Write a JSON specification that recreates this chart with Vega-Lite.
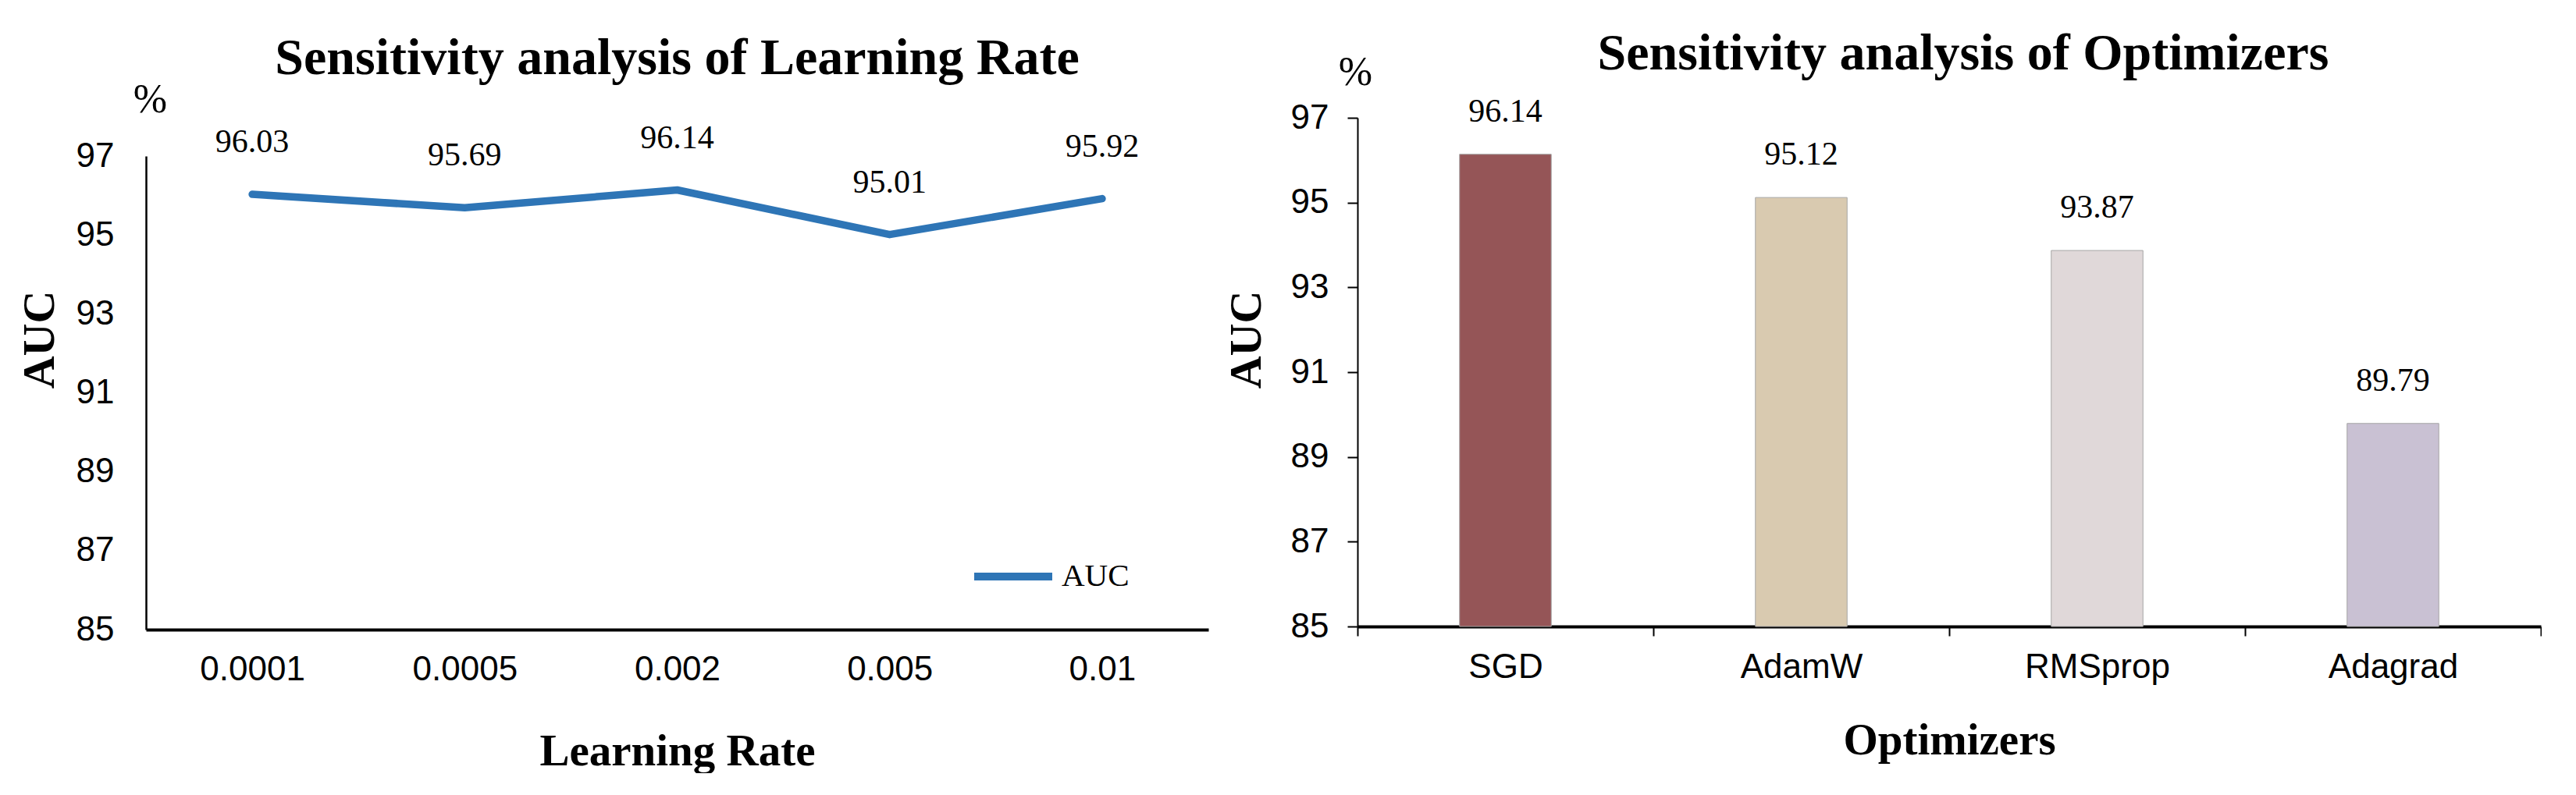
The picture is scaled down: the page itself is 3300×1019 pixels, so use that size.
{
  "$schema": "https://vega.github.io/schema/vega-lite/v6.json",
  "background": "white",
  "padding": {"left": 22, "top": 36, "right": 0, "bottom": 0},
  "spacing": 20,
  "config": {
    "view": {"stroke": null},
    "font": "Liberation Serif",
    "axis": {
      "labelFont": "Liberation Sans",
      "labelFontSize": 44,
      "labelColor": "#000000",
      "labelLimit": 0,
      "titleFont": "Liberation Serif",
      "titleFontWeight": "bold",
      "titleColor": "#000000",
      "domainColor": "#000000",
      "tickColor": "#000000",
      "grid": false
    },
    "title": {"font": "Liberation Serif", "fontSize": 66, "fontWeight": "bold", "color": "#000000"}
  },
  "datasets": {
    "lr": [
      {"lr": "0.0001", "auc": 96.03, "series": "AUC"},
      {"lr": "0.0005", "auc": 95.69, "series": "AUC"},
      {"lr": "0.002", "auc": 96.14, "series": "AUC"},
      {"lr": "0.005", "auc": 95.01, "series": "AUC"},
      {"lr": "0.01", "auc": 95.92, "series": "AUC"}
    ],
    "opt": [
      {"opt": "SGD", "auc": 96.14},
      {"opt": "AdamW", "auc": 95.12},
      {"opt": "RMSprop", "auc": 93.87},
      {"opt": "Adagrad", "auc": 89.79}
    ]
  },
  "resolve": {"scale": {"color": "independent"}, "legend": {"color": "independent"}},
  "hconcat": [
    {
      "width": 1361,
      "height": 656,
      "data": {"name": "lr"},
      "title": {"text": "Sensitivity analysis of Learning Rate", "anchor": "middle", "frame": "group", "baseline": "alphabetic", "offset": -60},
      "encoding": {
        "x": {
          "field": "lr", "type": "nominal", "sort": null,
          "scale": {"type": "point", "padding": 0.5},
          "axis": {"title": "Learning Rate", "titleFontSize": 57, "titleY": 173, "titleBaseline": "alphabetic", "labelAngle": 0, "labelPadding": 29, "ticks": false, "tickSize": 0, "domainWidth": 4}
        }
      },
      "layer": [
        {
          "mark": {"type": "line", "strokeWidth": 9.5, "strokeCap": "round", "strokeJoin": "round"},
          "encoding": {
            "y": {
              "field": "auc", "type": "quantitative",
              "scale": {"domain": [85, 97], "range": [656, 49], "nice": false, "zero": false},
              "axis": {"orient": "left", "title": "AUC", "titleFontSize": 58, "titleX": -136, "titleY": 284, "titleBaseline": "middle", "titleAlign": "center", "values": [85, 87, 89, 91, 93, 95, 97], "ticks": false, "tickSize": 0, "labelPadding": 41, "domainWidth": 2.5}
            },
            "color": {
              "field": "series", "type": "nominal",
              "scale": {"domain": ["AUC"], "range": ["#2E75B6"]},
              "legend": {"orient": "none", "legendX": 1056, "legendY": 533, "title": null, "symbolType": "stroke", "symbolSize": 10000, "symbolStrokeWidth": 10, "labelFont": "Liberation Serif", "labelFontSize": 41, "labelColor": "#000000", "labelOffset": 7, "padding": 0}
            }
          }
        },
        {
          "mark": {"type": "text", "dy": -67, "fontSize": 42, "font": "Liberation Serif", "baseline": "middle", "color": "#000000"},
          "encoding": {
            "y": {
              "field": "auc", "type": "quantitative",
              "axis": {"orient": "left", "title": "%", "titleAngle": 0, "titleX": 5, "titleY": -24, "titleAlign": "center", "titleBaseline": "middle", "titleFontSize": 52, "titleFontWeight": "normal", "labels": false, "ticks": false, "domain": false}
            },
            "text": {"field": "auc", "type": "quantitative", "format": ".2f"}
          }
        }
      ],
      "resolve": {"axis": {"y": "independent"}}
    },
    {
      "width": 1516,
      "height": 652,
      "data": {"name": "opt"},
      "title": {"text": "Sensitivity analysis of Optimizers", "anchor": "middle", "frame": "group", "baseline": "alphabetic", "offset": -89, "dx": 18},
      "encoding": {
        "x": {
          "field": "opt", "type": "nominal", "sort": null,
          "scale": {"type": "band", "paddingInner": 0, "paddingOuter": 0},
          "axis": {"title": "Optimizers", "titleFontSize": 57, "titleY": 163, "titleBaseline": "alphabetic", "labelAngle": 0, "labelPadding": 18, "tickBand": "extent", "tickSize": 12, "tickWidth": 2, "domainWidth": 4}
        }
      },
      "layer": [
        {
          "mark": {"type": "bar", "width": {"band": 0.31}, "stroke": "#A6A6A6", "strokeWidth": 1},
          "encoding": {
            "y": {
              "field": "auc", "type": "quantitative",
              "scale": {"domain": [85, 97], "nice": false, "zero": false},
              "axis": {"orient": "left", "title": "AUC", "titleFontSize": 58, "titleX": -142, "titleY": 284, "titleBaseline": "middle", "titleAlign": "center", "values": [85, 87, 89, 91, 93, 95, 97], "tickSize": 13, "tickWidth": 2, "labelPadding": 24, "domainWidth": 2}
            },
            "y2": {"datum": 85},
            "color": {
              "field": "opt", "type": "nominal", "sort": null,
              "scale": {"domain": ["SGD", "AdamW", "RMSprop", "Adagrad"], "range": ["#955557", "#D9CAB0", "#E0D8D9", "#C9C1D3"]},
              "legend": null
            }
          }
        },
        {
          "mark": {"type": "text", "dy": -55, "fontSize": 42, "font": "Liberation Serif", "baseline": "middle", "color": "#000000"},
          "encoding": {
            "y": {
              "field": "auc", "type": "quantitative",
              "axis": {"orient": "left", "title": "%", "titleAngle": 0, "titleX": -3, "titleY": -59, "titleAlign": "center", "titleBaseline": "middle", "titleFontSize": 52, "titleFontWeight": "normal", "labels": false, "ticks": false, "domain": false}
            },
            "text": {"field": "auc", "type": "quantitative", "format": ".2f"}
          }
        }
      ],
      "resolve": {"axis": {"y": "independent"}}
    }
  ]
}
